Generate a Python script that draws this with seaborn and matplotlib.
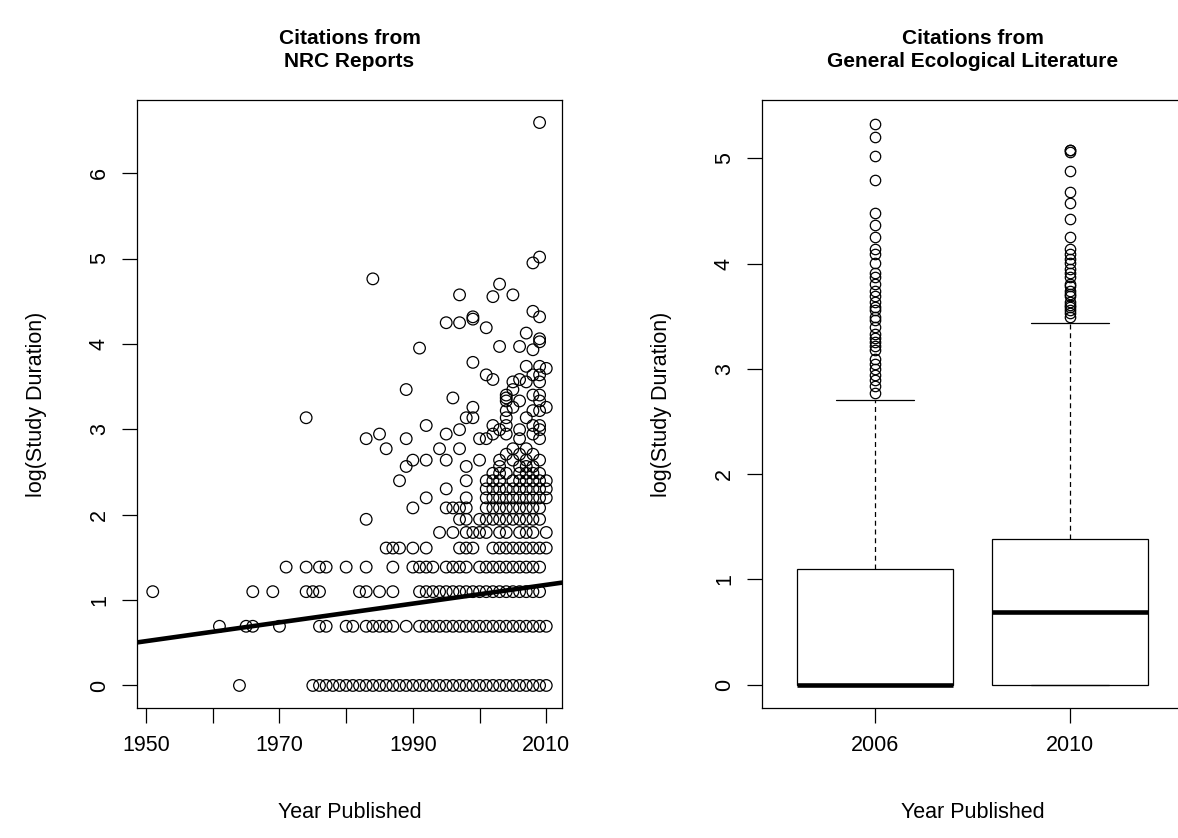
import numpy as np
import pandas as pd
import matplotlib
matplotlib.use("Agg")
import matplotlib.pyplot as plt
import seaborn as sns

# ---------------- Left panel: NRC report citations ----------------
# Publication years of citations for each study duration (years)
yrs_dur1 = [1964, 1975, 1976, 1977, 1978, 1979, 1980, 1981, 1982, 1983, 1984, 1985,
            1986, 1987, 1988, 1989, 1990, 1991, 1992, 1993, 1994, 1995, 1996, 1997,
            1998, 1999, 2000, 2001, 2002, 2003, 2004, 2005, 2006, 2007, 2008, 2009, 2010]
yrs_dur2 = [1961, 1965, 1966, 1970, 1976, 1977, 1980, 1981, 1983, 1984, 1985, 1986,
            1987, 1989, 1991, 1992, 1993, 1994, 1995, 1996, 1997, 1998, 1999, 2000,
            2001, 2002, 2003, 2004, 2005, 2006, 2007, 2008, 2009, 2010]
yrs_dur3 = [1951, 1966, 1969, 1974, 1975, 1976, 1982, 1983, 1985, 1987, 1991, 1992,
            1993, 1994, 1995, 1996, 1997, 1998, 1999, 2000, 2001, 2002, 2003, 2004,
            2005, 2006, 2007, 2008, 2009]
yrs_dur4 = [1971, 1974, 1976, 1977, 1980, 1983, 1987, 1990, 1991, 1992, 1993, 1995,
            1996, 1997, 1998, 2000, 2001, 2002, 2003, 2004, 2005, 2006, 2007, 2008, 2009]
yrs_dur5 = [1986, 1987, 1988, 1990, 1992, 1997, 1998, 1999, 2002, 2003, 2004, 2005,
            2006, 2007, 2008, 2009, 2010]
yrs_dur6 = [1994, 1996, 1998, 1999, 2000, 2001, 2003, 2004, 2006, 2007, 2008, 2010]
yrs_dur7 = [1983, 1997, 1998, 2000, 2001, 2002, 2003, 2004, 2005, 2006, 2007, 2008, 2009]
yrs_dur8 = [1990, 1995, 1996, 1997, 1998, 2001, 2002, 2003, 2004, 2005, 2006, 2007,
            2008, 2009]
yrs_dur9 = [1992, 1998, 2001, 2002, 2003, 2004, 2005, 2006, 2007, 2008, 2009, 2010]
yrs_dur10 = [1995, 2001, 2002, 2003, 2004, 2005, 2006, 2007, 2008, 2009, 2010]
yrs_dur11 = [1988, 1998, 2001, 2002, 2003, 2005, 2006, 2007, 2008, 2009, 2010]

# Sparser, longer studies (year, duration in years)
upper_years = [2002, 2003, 2004, 2006, 2007, 2008, 2009,
               1989, 1998, 2003, 2006, 2007, 2008,
               1990, 1992, 1995, 2000, 2003, 2005, 2007, 2009,
               2004, 2006, 2008,
               1986, 1994, 1997, 2005, 2007,
               1983, 1989, 2000, 2001, 2006, 2009,
               1985, 1995, 2002, 2004, 2008,
               1997, 2003, 2006, 2009,
               1992, 2002, 2004, 2008, 2009,
               1974, 1998, 1999, 2004, 2007,
               2004, 2008, 2009,
               1999, 2005, 2010,
               2004, 2006, 2009,
               1996, 2004,
               2004, 2008, 2009,
               1989, 2005,
               2005, 2007, 2009,
               2002, 2006,
               2001, 2008, 2009,
               2010, 2007, 2009, 1999, 2008, 1991, 2003, 2006, 2009, 2009,
               2007, 2001, 1995, 1997, 1999, 1999, 2009, 2008, 2002, 1997,
               2005, 2003, 1984, 2008, 2009, 2009]
upper_durations = [12, 12, 12, 12, 12, 12, 12,
                   13, 13, 13, 13, 13, 13,
                   14, 14, 14, 14, 14, 14, 14, 14,
                   15, 15, 15,
                   16, 16, 16, 16, 16,
                   18, 18, 18, 18, 18, 18,
                   19, 19, 19, 19, 19,
                   20, 20, 20, 20,
                   21, 21, 21, 21, 21,
                   23, 23, 23, 23, 23,
                   25, 25, 25,
                   26, 26, 26,
                   28, 28, 28,
                   29, 29,
                   30, 30, 30,
                   32, 32,
                   35, 35, 35,
                   36, 36,
                   38, 38, 38,
                   41, 42, 42, 44, 51, 52, 53, 53, 56, 58,
                   62, 66, 70, 70, 73, 75, 75, 80, 95, 97,
                   97, 110, 117, 141, 151, 730]

# Fitted trend line (as drawn in the reference): value at 1950 and slope per year
trend_at_1950 = 0.519
trend_slope = 0.01099

# ---------------- Right panel: general ecological literature ----------------
box_groups = ["2006", "2010"]
# study durations (years) and how many papers report each, within the whiskers
dur_2006 = [1, 2, 3, 4, 5, 6, 8, 10, 12, 15]
cnt_2006 = [520, 180, 120, 40, 40, 20, 15, 15, 8, 6]
out_2006 = [16, 17, 18, 19, 20, 21, 22, 24, 25, 26, 27, 28, 30, 32, 33, 35, 36, 38,
            40, 42, 45, 48, 50, 55, 60, 63, 70, 79, 88, 121, 151, 182, 206]
dur_2010 = [1, 2, 3, 4, 5, 6, 8, 10, 12, 15, 20, 25, 31]
cnt_2010 = [300, 250, 150, 120, 40, 30, 25, 20, 15, 12, 10, 8, 5]
out_2010 = [33, 34, 35, 36, 37, 38, 40, 41, 42, 44, 45, 48, 50, 52, 55, 57, 60, 63,
            70, 83, 97, 108, 131, 158, 160, 161]

# ---------------- build tables ----------------
row_sets = [(yrs_dur1, 1), (yrs_dur2, 2), (yrs_dur3, 3), (yrs_dur4, 4), (yrs_dur5, 5),
            (yrs_dur6, 6), (yrs_dur7, 7), (yrs_dur8, 8), (yrs_dur9, 9),
            (yrs_dur10, 10), (yrs_dur11, 11)]
nrc_year, nrc_dur = [], []
for yrs, d in row_sets:
    nrc_year += yrs
    nrc_dur += [d] * len(yrs)
nrc_year += upper_years
nrc_dur += upper_durations
nrc = pd.DataFrame({"year": nrc_year, "logdur": np.log(nrc_dur)})

g06 = np.concatenate([np.repeat(dur_2006, cnt_2006), out_2006])
g10 = np.concatenate([np.repeat(dur_2010, cnt_2010), out_2010])
gen = pd.DataFrame({
    "year": [box_groups[0]] * len(g06) + [box_groups[1]] * len(g10),
    "logdur": np.log(np.concatenate([g06, g10])),
})

# ---------------- style ----------------
sns.set_style("ticks")
plt.rcParams["font.family"] = ["Liberation Sans", "DejaVu Sans"]
plt.rcParams["axes.linewidth"] = 0.9
for key in ["text.color", "axes.labelcolor", "xtick.color", "ytick.color",
            "axes.edgecolor"]:
    plt.rcParams[key] = "black"

W, H = 1178, 838
fig = plt.figure(figsize=(W / 100, H / 100), dpi=100)
ax1 = fig.add_axes([137 / W, 1 - 708 / H, 425 / W, 608 / H])
ax2 = fig.add_axes([762 / W, 1 - 708 / H, 421 / W, 608 / H])

TICK_FS = 15.5
LAB_FS = 15.5
TITLE_FS = 15

# ---- left: scatter + trend line ----
sns.scatterplot(data=nrc, x="year", y="logdur", ax=ax1, marker="o",
                facecolor="none", edgecolor="black", s=70, linewidth=0.9,
                zorder=3)
ax1.axline((1950, trend_at_1950), slope=trend_slope, color="black", lw=3.3,
           zorder=4)
ax1.set_xlim(1948.64, 2012.36)
ax1.set_ylim(-0.264, 6.857)
ax1.set_xticks([1950, 1960, 1970, 1980, 1990, 2000, 2010])
ax1.set_xticklabels(["1950", "", "1970", "", "1990", "", "2010"])
ax1.set_yticks([0, 1, 2, 3, 4, 5, 6])

# ---- right: boxplot ----
sns.boxplot(data=gen, x="year", y="logdur", order=box_groups, ax=ax2,
            color="white", linecolor="black", linewidth=0.9, width=0.8,
            whis=1.5, fliersize=7.5,
            flierprops=dict(marker="o", markerfacecolor="none",
                            markeredgecolor="black", markeredgewidth=0.9),
            medianprops=dict(linewidth=3.3, color="black"),
            whiskerprops=dict(linestyle=(0, (4, 3)), linewidth=0.9),
            capprops=dict(linewidth=0.9))
ax2.set_xlim(-0.582, 1.582)
ax2.set_ylim(-0.222, 5.554)
ax2.set_yticks([0, 1, 2, 3, 4, 5])

for ax, title, ax_w in [(ax1, "Citations from\nNRC Reports", 425),
                        (ax2, "Citations from\nGeneral Ecological Literature", 421)]:
    for s in ax.spines.values():
        s.set_visible(True)
        s.set_color("black")
        s.set_linewidth(0.9)
    ax.tick_params(axis="both", direction="out", length=10.5, width=0.9,
                   labelsize=TICK_FS, pad=9, colors="black")
    for lab in ax.get_yticklabels():
        lab.set_rotation(90)
        lab.set_va("center")
    ax.set_xlabel("Year Published", fontsize=LAB_FS, va="center")
    ax.set_ylabel("log(Study Duration)", fontsize=LAB_FS, va="center")
    ax.xaxis.set_label_coords(0.5, -104 / 608)
    ax.yaxis.set_label_coords(-100 / ax_w, 0.5)
    ax.text(0.5, 1 + 50 / 608, title, transform=ax.transAxes, ha="center",
            va="center", fontsize=TITLE_FS, fontweight="bold", linespacing=1.25)
    ax.grid(False)

fig.savefig("out.png", dpi=100, facecolor="white")
